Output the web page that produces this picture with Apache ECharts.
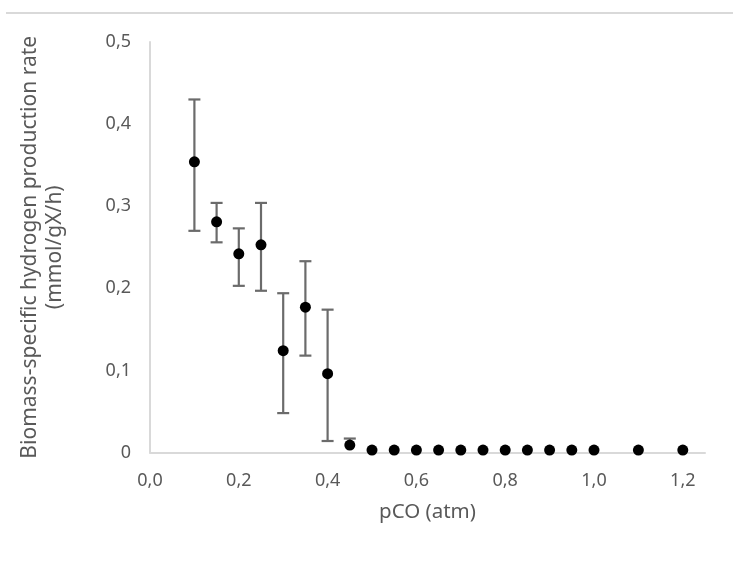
<!DOCTYPE html>
<html>
<head>
<meta charset="utf-8">
<script src="https://cdn.jsdelivr.net/npm/echarts@6/dist/echarts.min.js"></script>
<style>
html,body{margin:0;padding:0;background:#fff;}
#c{width:733px;height:561px;}
</style>
</head>
<body>
<div id="c"></div>
<script>
// pCO (atm)
var pCO = [0.1, 0.15, 0.2, 0.25, 0.3, 0.35, 0.4, 0.45, 0.5, 0.55, 0.6, 0.65, 0.7, 0.75, 0.8, 0.85, 0.9, 0.95, 1.0, 1.1, 1.2];
// Biomass-specific hydrogen production rate (mmol/gX/h)
var rate = [0.354, 0.281, 0.242, 0.253, 0.124, 0.177, 0.096, 0.009, 0.003, 0.003, 0.003, 0.003, 0.003, 0.003, 0.003, 0.003, 0.003, 0.003, 0.003, 0.003, 0.003];
// error bar ends (upper / lower); null = no bar drawn
var errUpper = [0.430, 0.304, 0.273, 0.304, 0.194, 0.233, 0.174, 0.017, null, null, null, null, null, null, null, null, null, null, null, null, null];
var errLower = [0.270, 0.256, 0.203, 0.197, 0.048, 0.118, 0.014, null, null, null, null, null, null, null, null, null, null, null, null, null, null];

var xTicks = {min: 0, max: 1.25, interval: 0.2};
var yTicks = {min: 0, max: 0.5, interval: 0.1};

var pts = pCO.map(function (x, i) { return [x, rate[i]]; });
var errData = [];
pCO.forEach(function (x, i) {
  if (errUpper[i] !== null || errLower[i] !== null) {
    errData.push([x, rate[i], errUpper[i], errLower[i]]);
  }
});

var FONT = '"Noto Sans", sans-serif';
function fmt(v) {
  return v.toFixed(1).replace('.', ',');
}

var chart = echarts.init(document.getElementById('c'), null, {renderer: 'canvas'});
chart.setOption({
  animation: false,
  backgroundColor: '#ffffff',
  textStyle: {fontFamily: FONT},
  graphic: [{
    type: 'rect',
    shape: {x: 6, y: 12, width: 727, height: 2},
    style: {fill: '#d9d9d9'},
    silent: true
  }],
  grid: {left: 150, top: 42, right: 28, bottom: 108.5, containLabel: false},
  xAxis: {
    type: 'value',
    min: xTicks.min, max: xTicks.max, interval: xTicks.interval,
    name: 'pCO (atm)',
    nameLocation: 'middle',
    nameGap: 49,
    nameTextStyle: {color: '#595959', fontSize: 20.5, fontFamily: FONT},
    axisLine: {show: true, lineStyle: {color: '#d9d9d9', width: 2}},
    axisTick: {show: false},
    splitLine: {show: false},
    axisLabel: {
      color: '#595959', fontSize: 18, fontFamily: FONT, margin: 19,
      showMaxLabel: false,
      formatter: function (v) { return fmt(v); }
    }
  },
  yAxis: {
    type: 'value',
    min: yTicks.min, max: yTicks.max, interval: yTicks.interval,
    name: 'Biomass-specific hydrogen production rate\n(mmol/gX/h)',
    nameLocation: 'middle',
    nameRotate: 90,
    nameGap: 82,
    nameTextStyle: {color: '#595959', fontSize: 21, fontFamily: FONT, lineHeight: 25},
    axisLine: {show: true, lineStyle: {color: '#d9d9d9', width: 2}},
    axisTick: {show: false},
    splitLine: {show: false},
    axisLabel: {
      color: '#595959', fontSize: 18, fontFamily: FONT, margin: 19,
      formatter: function (v) { return v === 0 ? '0' : fmt(v); }
    }
  },
  series: [{
    type: 'custom',
    name: 'error',
    data: errData,
    z: 1,
    renderItem: function (params, api) {
      var x = api.value(0);
      var y = api.value(1);
      var up = api.value(2);
      var lo = api.value(3);
      var c = api.coord([x, y]);
      var children = [];
      var half = 6;
      var st = {stroke: '#6b6b6b', lineWidth: 2.2};
      if (up !== null && !isNaN(up) && up !== '-') {
        var pu = api.coord([x, up]);
        children.push({type: 'line', shape: {x1: c[0], y1: c[1], x2: pu[0], y2: pu[1]}, style: st});
        children.push({type: 'line', shape: {x1: pu[0] - half, y1: pu[1], x2: pu[0] + half, y2: pu[1]}, style: st});
      }
      if (lo !== null && !isNaN(lo) && lo !== '-') {
        var pl = api.coord([x, lo]);
        children.push({type: 'line', shape: {x1: c[0], y1: c[1], x2: pl[0], y2: pl[1]}, style: st});
        children.push({type: 'line', shape: {x1: pl[0] - half, y1: pl[1], x2: pl[0] + half, y2: pl[1]}, style: st});
      }
      return {type: 'group', children: children};
    }
  }, {
    type: 'scatter',
    name: 'rate',
    data: pts,
    symbol: 'circle',
    symbolSize: 11,
    z: 3,
    itemStyle: {color: '#000000', opacity: 1}
  }]
});
</script>
</body>
</html>
